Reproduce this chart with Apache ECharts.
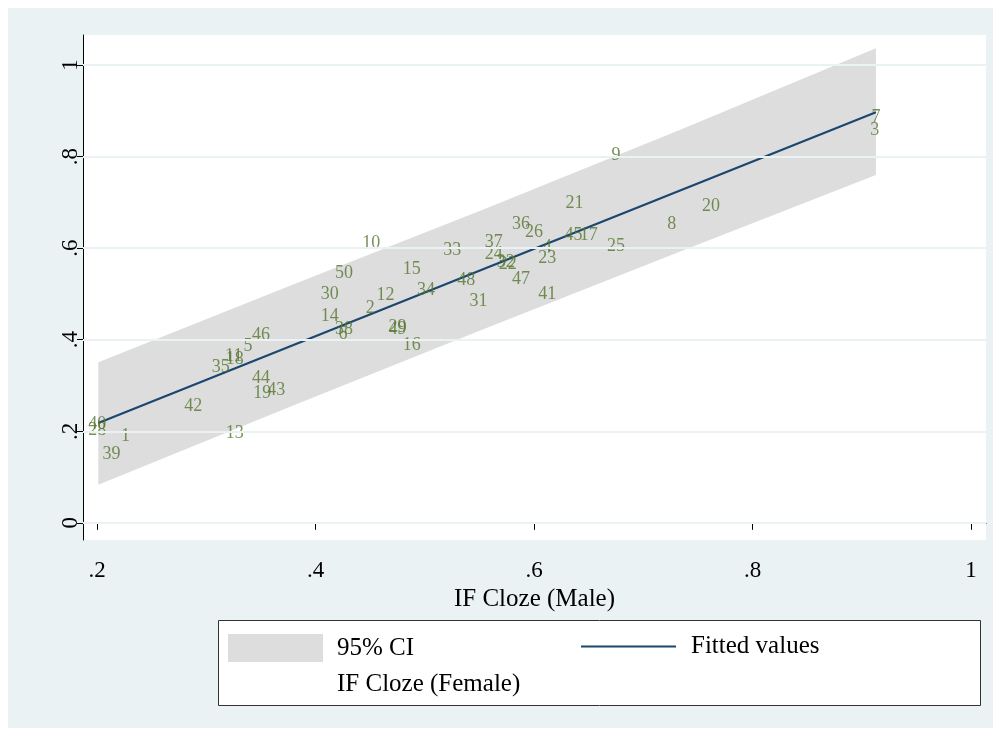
<!DOCTYPE html>
<html>
<head>
<meta charset="utf-8">
<script src="https://cdn.jsdelivr.net/npm/echarts@6/dist/echarts.min.js"></script>
<style>
  html, body { margin: 0; padding: 0; background: #ffffff; }
  #chart { width: 1001px; height: 733px; }
</style>
</head>
<body>
<div id="chart"></div>
<script>
// Observation ids (label text)
const ids = [1,2,3,4,5,6,7,8,9,10,11,12,13,14,15,16,17,18,19,20,21,22,23,24,25,26,28,29,30,31,32,33,34,35,36,37,38,39,40,41,42,43,44,45,46,47,48,49,50];
// IF Cloze (Male) – x values
const maleScore = [0.226,0.450,0.912,0.612,0.338,0.425,0.913,0.726,0.675,0.451,0.325,0.464,0.326,0.413,0.488,0.488,0.650,0.326,0.351,0.762,0.637,0.576,0.612,0.563,0.675,0.600,0.200,0.475,0.413,0.549,0.574,0.525,0.501,0.313,0.588,0.563,0.426,0.213,0.200,0.612,0.288,0.364,0.350,0.636,0.350,0.588,0.538,0.475,0.426];
// IF Cloze (Female) – y values
const femaleScore = [0.188,0.469,0.857,0.603,0.386,0.411,0.887,0.652,0.803,0.610,0.364,0.498,0.196,0.452,0.555,0.387,0.628,0.358,0.284,0.691,0.699,0.564,0.577,0.586,0.604,0.635,0.203,0.428,0.500,0.485,0.569,0.595,0.508,0.339,0.652,0.612,0.423,0.149,0.215,0.500,0.254,0.290,0.316,0.629,0.410,0.533,0.531,0.423,0.546];
// Fitted values line
const fitX = [0.201, 0.913];
const fitY = [0.218, 0.897];
// 95% CI band
const ciX = [0.201, 0.380, 0.557, 0.735, 0.913];
const ciUpper = [0.351, 0.521, 0.688, 0.860, 1.037];
const ciLower = [0.083, 0.257, 0.426, 0.594, 0.760];
// Tick values
const xTicks = [0.2, 0.4, 0.6, 0.8, 1];
const yTicks = [0, 0.2, 0.4, 0.6, 0.8, 1];

const FONT = "'Liberation Serif', 'Times New Roman', serif";
const fmt = v => { const r = Math.round(v * 10) / 10; if (r === 0) return '0'; if (r === 1) return '1'; return String(r).replace(/^0/, ''); };

const chart = echarts.init(document.getElementById('chart'), null, { renderer: 'canvas' });
const option = {
  animation: false,
  backgroundColor: '#ffffff',
  textStyle: { fontFamily: FONT },
  graphic: [
    { type: 'rect', z: -10, silent: true, shape: { x: 8, y: 8, width: 985, height: 720 }, style: { fill: '#EAF2F3' } },
    { type: 'rect', z: -5, silent: true, shape: { x: 218.5, y: 620.5, width: 762, height: 85 }, style: { fill: '#ffffff', stroke: '#333333', lineWidth: 1 } }
  ],
  grid: { left: 83, right: 15, top: 35, bottom: 193, show: true, backgroundColor: '#ffffff', borderWidth: 0 },
  xAxis: {
    type: 'value', min: 0.18698, max: 1.01378,
    name: 'IF Cloze (Male)', nameLocation: 'middle', nameGap: 42,
    nameTextStyle: { fontFamily: FONT, fontSize: 25, color: '#000' },
    axisLine: { show: true, lineStyle: { color: '#000', width: 1 } },
    axisTick: { show: true, length: 7, customValues: xTicks, lineStyle: { color: '#000' } },
    axisLabel: { customValues: xTicks, formatter: fmt, fontFamily: FONT, fontSize: 23, color: '#000', margin: 19 },
    splitLine: { show: false }
  },
  yAxis: {
    type: 'value', min: -0.03758, max: 1.0658,
    axisLine: { show: true, lineStyle: { color: '#000', width: 1 } },
    axisTick: { show: true, length: 6, customValues: yTicks, lineStyle: { color: '#000' } },
    axisLabel: { customValues: yTicks, formatter: fmt, rotate: 90, fontFamily: FONT, fontSize: 23, color: '#000', margin: 1 },
    splitLine: { show: false }
  },
  legend: [
    { data: [{ name: '95% CI', icon: 'rect' }], left: 228, top: 634, padding: 0, itemWidth: 95, itemHeight: 28, selectedMode: false,
      textStyle: { fontFamily: FONT, fontSize: 25, color: '#000', padding: [0, 0, 0, 9] } },
    { data: [{ name: 'Fitted values', icon: 'rect' }], left: 581, top: 634, padding: 0, itemWidth: 95, itemHeight: 2, selectedMode: false,
      textStyle: { fontFamily: FONT, fontSize: 25, color: '#000', padding: [0, 0, 0, 10] } },
    { data: [{ name: 'IF Cloze (Female)', icon: 'rect', itemStyle: { opacity: 0 } }], left: 228, top: 670, padding: 0, itemWidth: 95, itemHeight: 28, selectedMode: false,
      textStyle: { fontFamily: FONT, fontSize: 25, color: '#000', padding: [0, 0, 0, 9] } }
  ],
  series: [
    {
      name: 'gridlines', type: 'line', data: [], z: 1, silent: true,
      markLine: {
        silent: true, symbol: 'none', label: { show: false },
        lineStyle: { color: '#EAF2F3', width: 2, type: 'solid' },
        data: yTicks.map(v => ({ yAxis: v }))
      }
    },
    {
      name: '95% CI', type: 'custom', z: 2, silent: true,
      itemStyle: { color: '#DDDDDD' },
      data: [[ciX[0], ciUpper[0]]],
      renderItem: function (params, api) {
        const pts = [];
        for (let i = 0; i < ciX.length; i++) pts.push(api.coord([ciX[i], ciUpper[i]]));
        for (let i = ciX.length - 1; i >= 0; i--) pts.push(api.coord([ciX[i], ciLower[i]]));
        return { type: 'polygon', shape: { points: pts }, style: { fill: '#DDDDDD' } };
      }
    },
    {
      name: 'Fitted values', type: 'line', z: 3, symbol: 'none',
      lineStyle: { color: '#1A476F', width: 2.2 }, itemStyle: { color: '#1A476F' },
      data: fitX.map((x, i) => [x, fitY[i]])
    },
    {
      name: 'IF Cloze (Female)', type: 'scatter', z: 4, symbolSize: 1,
      itemStyle: { color: 'rgba(0,0,0,0)' },
      label: {
        show: true, position: 'inside', color: '#55752F', fontFamily: FONT, fontSize: 18,
        formatter: p => String(p.value[2])
      },
      data: ids.map((id, i) => [maleScore[i], femaleScore[i], id])
    }
  ]
};
chart.setOption(option);
</script>
</body>
</html>
